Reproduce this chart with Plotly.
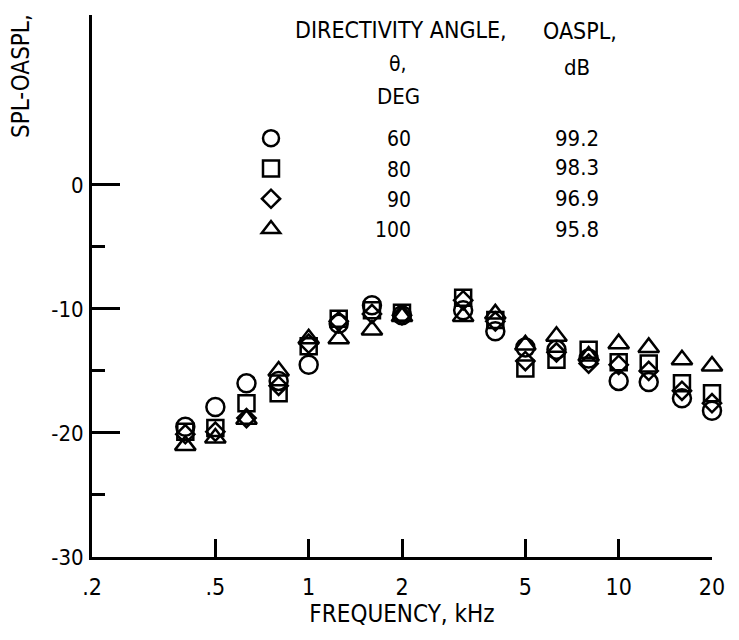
import plotly.graph_objects as go
import math

# ---- data ----
freq_khz = [0.4, 0.5, 0.63, 0.8, 1.0, 1.25, 1.6, 2.0, 3.15, 4.0, 5.0, 6.3, 8.0, 10, 12.5, 16, 20]
spl_60 = [-19.5, -17.9, -16.0, -15.8, -14.5, -11.2, -9.7, -10.5, -10.1, -11.8, -13.1, -13.3, -14.0, -15.8, -15.9, -17.2, -18.2]
spl_80 = [-19.9, -19.6, -17.6, -16.8, -13.0, -10.8, -10.1, -10.3, -9.1, -10.9, -14.8, -14.1, -13.3, -14.3, -14.4, -16.0, -16.8]
spl_90 = [-20.1, -19.9, -18.8, -16.2, -12.8, -11.0, -10.4, -10.5, -9.3, -11.0, -14.2, -13.5, -14.4, -14.5, -15.0, -16.6, -17.6]
spl_100 = [-21.0, -20.4, -18.9, -15.0, -12.4, -12.4, -11.7, -10.6, -10.6, -10.4, -12.9, -12.2, -13.8, -12.8, -13.1, -14.1, -14.6]

angles = ["60", "80", "90", "100"]
oaspl = ["99.2", "98.3", "96.9", "95.8"]
series = [spl_60, spl_80, spl_90, spl_100]
symbols = ["circle-open", "square-open", "diamond-open", "triangle-up-open"]
sizes = [18, 16, 14, 18]

x_tickvals = [0.2, 0.5, 1, 2, 5, 10, 20]
x_ticktext = [".2", ".5", "1", "2", "5", "10", "20"]
y_tickvals = [-30, -20, -10, 0]
y_ticktext = ["-30", "-20", "-10", "0"]
y_minor = [-25, -15, -5]

FONT = "Liberation Sans Narrow, DejaVu Sans Condensed, Arial Narrow, Liberation Sans, sans-serif"
NB = "\u00a0"

fig = go.Figure()
for i in range(4):
    pad = NB * (16 if len(angles[i]) == 2 else 14)
    fig.add_trace(go.Scatter(
        x=freq_khz, y=series[i], mode="markers", name=pad + angles[i],
        marker=dict(symbol=symbols[i], size=sizes[i], color="black",
                    line=dict(color="black", width=2.5)),
        cliponaxis=False,
    ))

# plot area: px x 92..712, y 15..557
L, R, T, B = 92, 739 - 712, 15, 640 - 557
PW, PH = 712 - 92, 557 - 15

def px(x):
    return (x - L) / PW

def py(y):
    return (557 - y) / PH

ann = []
def add(text, x, y, size=20, xanchor="center", angle=0):
    ann.append(dict(text=text, x=px(x), y=py(y), xref="paper", yref="paper",
                    showarrow=False, xanchor=xanchor, yanchor="middle",
                    textangle=angle, font=dict(family=FONT, size=size, color="black")))

add("SPL-OASPL,", 21, 76, size=24, angle=-90)
add("DIRECTIVITY ANGLE,", 401, 30, size=23)
add("\u03b8,", 398, 64, size=21)
add("DEG", 398, 97, size=22)
add("OASPL,", 580, 31, size=23)
add("dB", 577, 67, size=22)
rows = [138, 168, 199, 229]
for i in range(4):
    add(oaspl[i], 577, rows[i], size=22)

fig.update_layout(
    width=739, height=640,
    margin=dict(l=L, r=R, t=T, b=B),
    paper_bgcolor="white", plot_bgcolor="white",
    font=dict(family=FONT, size=20, color="black"),
    annotations=ann,
    showlegend=True,
    legend=dict(x=px(251), y=py(118), xanchor="left", yanchor="top",
                bgcolor="rgba(0,0,0,0)", font=dict(family=FONT, size=21, color="black"),
                itemsizing="trace", tracegroupgap=0),
    xaxis=dict(type="log", range=[math.log10(0.2), math.log10(20)],
               tickvals=x_tickvals, ticktext=x_ticktext,
               ticks="inside", ticklen=18, tickwidth=2.5, tickcolor="black",
               showline=True, linewidth=3, linecolor="black",
               showgrid=False, zeroline=False, ticklabelstandoff=7,
               tickfont=dict(family=FONT, size=23, color="black"),
               title=dict(text="FREQUENCY, kHz", standoff=5,
                          font=dict(family=FONT, size=24, color="black"))),
    yaxis=dict(range=[-30, 13.7],
               tickvals=y_tickvals, ticktext=y_ticktext,
               ticks="inside", ticklen=28, tickwidth=2.5, tickcolor="black",
               minor=dict(tickvals=y_minor, ticks="inside", ticklen=13,
                          tickwidth=2.5, tickcolor="black", showgrid=False),
               showline=True, linewidth=3, linecolor="black",
               showgrid=False, zeroline=False, ticklabelstandoff=1,
               tickfont=dict(family=FONT, size=22, color="black")),
)

fig.write_html("out.html")
